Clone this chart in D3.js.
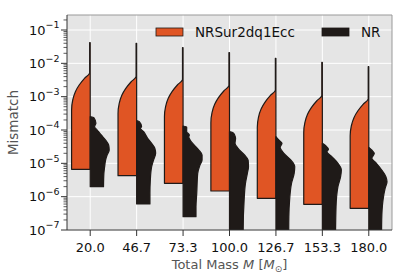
<!DOCTYPE html>
<html>
<head>
<meta charset="utf-8">
<script src="https://cdn.jsdelivr.net/npm/d3@7"></script>
<style>
  body { margin: 0; background: #fff; }
  svg { display: block; font-family: "DejaVu Sans", sans-serif; }
</style>
</head>
<body>
<div id="chart"></div>
<script>
// total mass categories (x axis)
const categories = ["20.0", "46.7", "73.3", "100.0", "126.7", "153.3", "180.0"]

// NRSur2dq1Ecc half violins, log10(mismatch): thin tail top, start of widening, flat bottom
const surTop = [-1.38, -1.40, -1.53, -1.68, -1.85, -1.97, -2.10]
const surKnee = [-2.30, -2.41, -2.50, -2.68, -2.82, -2.98, -3.08]
const surMin = [-5.18, -5.37, -5.60, -5.83, -6.05, -6.23, -6.35]
// shoulder of the orange violins: [decades below knee, relative width]
const surShoulder = [[0, 0.04], [0.15, 0.30], [0.35, 0.58], [0.55, 0.78], [0.8, 0.92], [1.1, 0.98]]

// NR half violins: [log10(mismatch), relative width]
const nrProfiles = [
  [[-3.60, 0], [-3.63, 0.19], [-3.80, 0.30], [-3.90, 0.23], [-4.00, 0.37], [-4.15, 0.58], [-4.30, 0.81],
   [-4.45, 0.97], [-4.60, 1.0], [-4.75, 0.89], [-4.90, 0.81], [-5.10, 0.76], [-5.30, 0.72], [-5.70, 0.70]],
  [[-3.72, 0], [-3.75, 0.14], [-3.90, 0.26], [-3.95, 0.19], [-4.05, 0.37], [-4.25, 0.58], [-4.40, 0.79],
   [-4.55, 0.96], [-4.70, 1.0], [-4.90, 0.89], [-5.10, 0.79], [-5.50, 0.72], [-5.90, 0.70], [-6.22, 0.70]],
  [[-3.88, 0], [-3.91, 0.19], [-4.05, 0.19], [-4.15, 0.33], [-4.21, 0.30], [-4.30, 0.37], [-4.45, 0.58],
   [-4.60, 0.83], [-4.75, 1.0], [-4.90, 1.0], [-5.05, 0.89], [-5.30, 0.77], [-5.90, 0.72], [-6.30, 0.68], [-6.60, 0.68]],
  [[-4.05, 0], [-4.09, 0.20], [-4.15, 0.27], [-4.25, 0.32], [-4.40, 0.29], [-4.55, 0.45], [-4.75, 0.79],
   [-4.90, 0.98], [-5.10, 1.0], [-5.30, 0.94], [-5.60, 0.84], [-6.10, 0.77], [-7.00, 0.72], [-7.30, 0.72]],
  [[-4.20, 0], [-4.30, 0.15], [-4.40, 0.32], [-4.52, 0.22], [-4.70, 0.42], [-4.90, 0.78], [-5.10, 0.99],
   [-5.30, 0.96], [-5.60, 0.82], [-6.10, 0.72], [-6.60, 0.68], [-7.30, 0.67]],
  [[-4.40, 0], [-4.48, 0.19], [-4.58, 0.32], [-4.65, 0.24], [-4.80, 0.50], [-5.00, 0.82], [-5.20, 1.0],
   [-5.40, 0.96], [-5.70, 0.82], [-6.30, 0.72], [-7.30, 0.69]],
  [[-4.52, 0], [-4.60, 0.15], [-4.70, 0.29], [-4.85, 0.16], [-5.00, 0.40], [-5.20, 0.68], [-5.40, 0.90],
   [-5.55, 0.96], [-5.75, 0.86], [-6.10, 0.75], [-6.70, 0.68], [-7.30, 0.67]]
]

const yTickExps = [-7, -6, -5, -4, -3, -2, -1]

const width = 407
const height = 279
const margin = { top: 15, right: 15, bottom: 49, left: 67 }
const halfWidth = 19

const orange = "#e05524"
const dark = "#1f1a18"

const svg = d3.select("#chart").append("svg")
  .attr("width", width)
  .attr("height", height)

const x = d3.scaleBand()
  .domain(categories)
  .range([margin.left, width - margin.right])

const y = d3.scaleLog()
  .domain([1e-7, Math.pow(10, -0.55)])
  .range([height - margin.bottom, margin.top])

const center = c => x(c) + x.bandwidth() / 2

// background
svg.append("rect")
  .attr("x", margin.left)
  .attr("y", margin.top)
  .attr("width", width - margin.left - margin.right)
  .attr("height", height - margin.top - margin.bottom)
  .attr("fill", "#e5e5e5")

svg.append("defs").append("clipPath").attr("id", "plot")
  .append("rect")
  .attr("x", margin.left)
  .attr("y", margin.top)
  .attr("width", width - margin.left - margin.right)
  .attr("height", height - margin.top - margin.bottom)

// grid
const grid = svg.append("g").attr("stroke", "#fff").attr("stroke-width", 1)
yTickExps.forEach(e => {
  grid.append("line")
    .attr("x1", margin.left).attr("x2", width - margin.right)
    .attr("y1", y(Math.pow(10, e))).attr("y2", y(Math.pow(10, e)))
})
categories.forEach(c => {
  grid.append("line")
    .attr("x1", center(c)).attr("x2", center(c))
    .attr("y1", margin.top).attr("y2", height - margin.bottom)
})

const violins = svg.append("g").attr("clip-path", "url(#plot)")

// orange (left) halves
categories.forEach((c, i) => {
  const cx = center(c)
  const pts = [[surTop[i], 0.03], [surKnee[i] + 0.02, 0.03]]
  surShoulder.forEach(s => pts.push([surKnee[i] - s[0], s[1]]))
  pts.push([surMin[i], surShoulder[surShoulder.length - 1][1]])

  const area = d3.area()
    .y(d => y(Math.pow(10, d[0])))
    .x0(cx)
    .x1(d => cx - d[1] * halfWidth)
    .curve(d3.curveMonotoneY)

  violins.append("path")
    .attr("d", area(pts))
    .attr("fill", orange)
    .attr("stroke", dark)
    .attr("stroke-width", 1.2)
    .attr("stroke-linejoin", "round")
})

// NR (right) halves
categories.forEach((c, i) => {
  const cx = center(c)
  const area = d3.area()
    .y(d => y(Math.pow(10, d[0])))
    .x0(cx)
    .x1(d => cx + d[1] * halfWidth)
    .curve(d3.curveMonotoneY)

  violins.append("path")
    .attr("d", area(nrProfiles[i]))
    .attr("fill", dark)
    .attr("stroke", dark)
    .attr("stroke-width", 1.2)
    .attr("stroke-linejoin", "round")
})

// frame
const x0 = margin.left, x1 = width - margin.right
const y0 = margin.top, y1 = height - margin.bottom
svg.append("path")
  .attr("d", `M${x0},${y0}H${x1}V${y1}`)
  .attr("fill", "none").attr("stroke", "#999").attr("stroke-width", 1)
svg.append("path")
  .attr("d", `M${x0},${y0}V${y1}H${x1}`)
  .attr("fill", "none").attr("stroke", "#333").attr("stroke-width", 1)

// y ticks
const yAxis = svg.append("g")
const [dMin, dMax] = y.domain()
for (let e = -7; e <= 0; e++) {
  for (let m = 2; m <= 9; m++) {
    const v = m * Math.pow(10, e)
    if (v < dMin || v > dMax) continue
    yAxis.append("line")
      .attr("x1", x0 - 3.5).attr("x2", x0)
      .attr("y1", y(v)).attr("y2", y(v))
      .attr("stroke", "#333").attr("stroke-width", 0.8)
  }
}
yTickExps.forEach(e => {
  const yy = y(Math.pow(10, e))
  yAxis.append("line")
    .attr("x1", x0 - 6).attr("x2", x0)
    .attr("y1", yy).attr("y2", yy)
    .attr("stroke", "#333").attr("stroke-width", 1)
  const t = yAxis.append("text")
    .attr("x", x0 - 7.5)
    .attr("y", yy + 4.8)
    .attr("text-anchor", "end")
    .attr("font-size", 13)
    .attr("fill", "#111")
  t.append("tspan").text("10")
  t.append("tspan").attr("dy", -6.5).attr("font-size", 9.5).text("\u2212" + (-e))
})

// x ticks
const xAxis = svg.append("g")
categories.forEach(c => {
  xAxis.append("line")
    .attr("x1", center(c)).attr("x2", center(c))
    .attr("y1", y1).attr("y2", y1 + 6)
    .attr("stroke", "#333").attr("stroke-width", 1)
  xAxis.append("text")
    .attr("x", center(c))
    .attr("y", y1 + 21.5)
    .attr("text-anchor", "middle")
    .attr("font-size", 13)
    .attr("fill", "#111")
    .text(c)
})

// axis labels
const xl = svg.append("text")
  .attr("x", (x0 + x1) / 2)
  .attr("y", 268.5)
  .attr("text-anchor", "middle")
  .attr("font-size", 13)
  .attr("fill", "#555")
xl.append("tspan").text("Total Mass ")
xl.append("tspan").attr("font-style", "italic").text("M")
xl.append("tspan").text(" [")
xl.append("tspan").attr("font-style", "italic").text("M")
xl.append("tspan").attr("dy", 3).attr("font-size", 9).text("\u2299")
xl.append("tspan").attr("dy", -3).text("]")

svg.append("text")
  .attr("transform", `translate(17.5,${(y0 + y1) / 2}) rotate(-90)`)
  .attr("text-anchor", "middle")
  .attr("font-size", 13.5)
  .attr("fill", "#555")
  .text("Mismatch")

// legend
const legendItems = [
  { label: "NRSur2dq1Ecc", color: orange, x: 156 },
  { label: "NR", color: dark, x: 322 }
]
const legend = svg.append("g")
legendItems.forEach(d => {
  legend.append("rect")
    .attr("x", d.x).attr("y", 28)
    .attr("width", 27).attr("height", 8)
    .attr("fill", d.color)
    .attr("stroke", dark).attr("stroke-width", 0.8)
  legend.append("text")
    .attr("x", d.x + 39)
    .attr("y", 37)
    .attr("font-size", 13.5)
    .attr("fill", "#111")
    .text(d.label)
})
</script>
</body>
</html>
